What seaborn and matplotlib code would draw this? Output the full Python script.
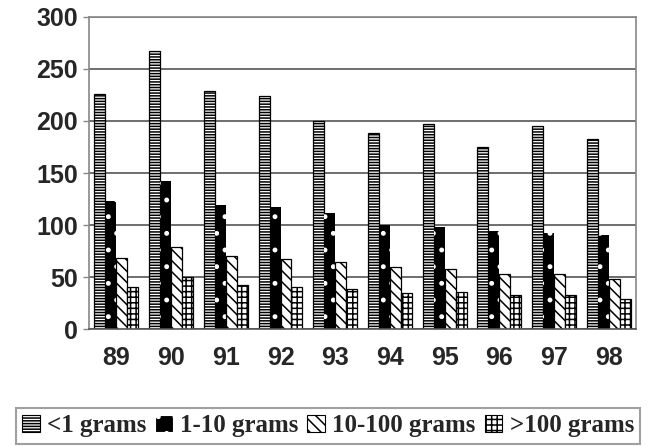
import matplotlib
matplotlib.use("Agg")
import matplotlib.pyplot as plt
from matplotlib.patches import Patch
from matplotlib.ticker import MultipleLocator
import numpy as np
import pandas as pd
import seaborn as sns

# Seizure counts by year and weight class
years = ["89", "90", "91", "92", "93", "94", "95", "96", "97", "98"]
size_classes = ["<1 grams", "1-10 grams", "10-100 grams", ">100 grams"]
under_1g = [226, 267, 229, 224, 200, 188, 197, 175, 195, 183]
from_1_to_10g = [123, 142, 119, 117, 112, 100, 98, 94, 92, 90]
from_10_to_100g = [68, 79, 70, 67, 64, 60, 58, 53, 53, 48]
over_100g = [40, 50, 42, 40, 38, 35, 36, 33, 33, 29]

series = [under_1g, from_1_to_10g, from_10_to_100g, over_100g]
df = pd.DataFrame({
    "year": np.repeat([years], len(size_classes), axis=0).ravel(),
    "size": np.repeat(size_classes, len(years)),
    "count": np.concatenate(series),
})

# fill / hatch / hatch-colour for each weight class
faces = ["white", "black", "white", "white"]
hatches = ["------", ".", "\\\\\\", "+++"]
edges = ["black", "white", "black", "black"]

sns.set_style("white")
plt.rcParams["hatch.linewidth"] = 1.1

fig = plt.figure(figsize=(6.56, 4.46), dpi=100)
ax = fig.add_axes([0.1357, 0.2623, 0.834, 0.6996])

sns.barplot(data=df, x="year", y="count", hue="size", hue_order=size_classes,
            order=years, palette=faces, width=0.8, saturation=1,
            edgecolor="black", linewidth=0.9, legend=False, ax=ax)

for cont, fc, h, ec in zip(ax.containers, faces, hatches, edges):
    for bar in cont:
        bar.set_facecolor(fc)
        bar.set_hatch(h)
        bar.set_edgecolor(ec)
        if fc == "black":
            bar.set_linewidth(0.0)

ax.set_ylim(0, 300)
ax.set_xlim(-0.5, len(years) - 0.5)
ax.yaxis.set_major_locator(MultipleLocator(50))
ax.grid(axis="y", color="#555555", linewidth=1.2)
ax.set_axisbelow(True)
ax.set_xlabel("")
ax.set_ylabel("")

for side in ["top", "right", "left", "bottom"]:
    ax.spines[side].set_visible(True)
    ax.spines[side].set_color("#888888")
    ax.spines[side].set_linewidth(1.2)
ax.spines["bottom"].set_color("#555555")

tick_font = dict(family="Liberation Sans", weight="bold", size=18)
ax.set_yticks(np.arange(0, 301, 50))
ax.set_yticklabels([str(v) for v in range(0, 301, 50)], fontdict=tick_font)
ax.set_xticks(range(len(years)))
ax.set_xticklabels(years, fontdict=tick_font)
ax.set_xticks(np.arange(-0.5, len(years), 1.0), minor=True)
ax.tick_params(axis="x", which="major", length=0, pad=12)
ax.tick_params(axis="x", which="minor", length=5, color="#555555", width=1)
ax.tick_params(axis="y", length=4, color="#888888", width=1, pad=4, left=True)

handles = [Patch(facecolor=fc, edgecolor=ec, hatch=h, linewidth=0.8)
           for fc, h, ec in zip(faces, hatches, edges)]
leg = fig.legend(handles, size_classes, loc="lower center", ncol=4,
                 bbox_to_anchor=(0.5, 0.0), frameon=True, fancybox=False,
                 prop=dict(family="Liberation Serif", weight="bold", size=18),
                 handlelength=0.7, handleheight=0.7, handletextpad=0.3,
                 columnspacing=0.35, borderpad=0.25, borderaxespad=0.1)
leg.get_frame().set_edgecolor("#888888")
leg.get_frame().set_linewidth(1.5)

fig.savefig("out.png", dpi=100)
